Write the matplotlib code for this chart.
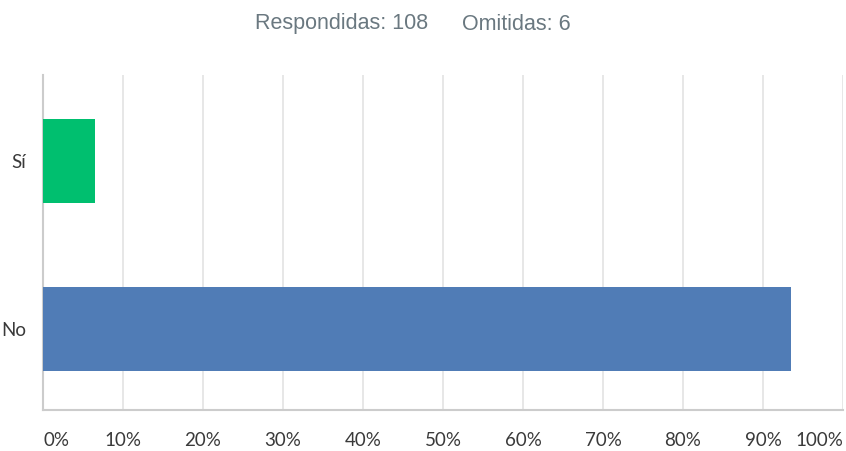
import matplotlib
matplotlib.use("Agg")
import matplotlib.pyplot as plt
from matplotlib.ticker import FixedLocator

categories = ["No", "Sí"]
values = [93.52, 6.48]
colors = ["#507CB6", "#00BF6F"]
xticks = [0, 10, 20, 30, 40, 50, 60, 70, 80, 90, 100]
xtick_labels = [f"{t}%" for t in xticks]
answered = 108
skipped = 6

fig = plt.figure(figsize=(8.46, 4.51), dpi=100)
W, H = 846, 451
ax = fig.add_axes([43 / W, (H - 410) / H, 800 / W, 335 / H])

ax.barh(categories, values, height=0.5, color=colors, zorder=3)
ax.set_xlim(0, 100)
ax.set_ylim(-0.48, 1.51)

ax.xaxis.set_major_locator(FixedLocator(xticks))
ax.set_xticklabels(xtick_labels, fontsize=13.5, color="#3a3a3a", family=["Lato", "DejaVu Sans"])
labs = ax.get_xticklabels()
labs[0].set_ha("left")
labs[-1].set_ha("right")
ax.tick_params(axis="x", length=0, pad=16)
ax.tick_params(axis="y", length=0, pad=12, labelsize=13.5, labelcolor="#3a3a3a")
for l in ax.get_yticklabels():
    l.set_family(["Lato", "DejaVu Sans"])

ax.grid(axis="x", color="#e3e3e3", linewidth=1.2, zorder=0)
for s in ["top", "right"]:
    ax.spines[s].set_visible(False)
ax.spines["left"].set_color("#cccccc")
ax.spines["left"].set_linewidth(1.5)
ax.spines["bottom"].set_color("#cccccc")
ax.spines["bottom"].set_linewidth(1.5)

fig.text(255 / W, 1 - 24 / H, f"Respondidas: {answered}", ha="left", va="center",
         fontsize=15.5, color="#6a7880", family="Liberation Sans")
fig.text(462 / W, 1 - 24 / H, f"Omitidas: {skipped}", ha="left", va="center",
         fontsize=15.5, color="#6a7880", family="Liberation Sans")

fig.savefig("out.png", dpi=100, facecolor="white")
